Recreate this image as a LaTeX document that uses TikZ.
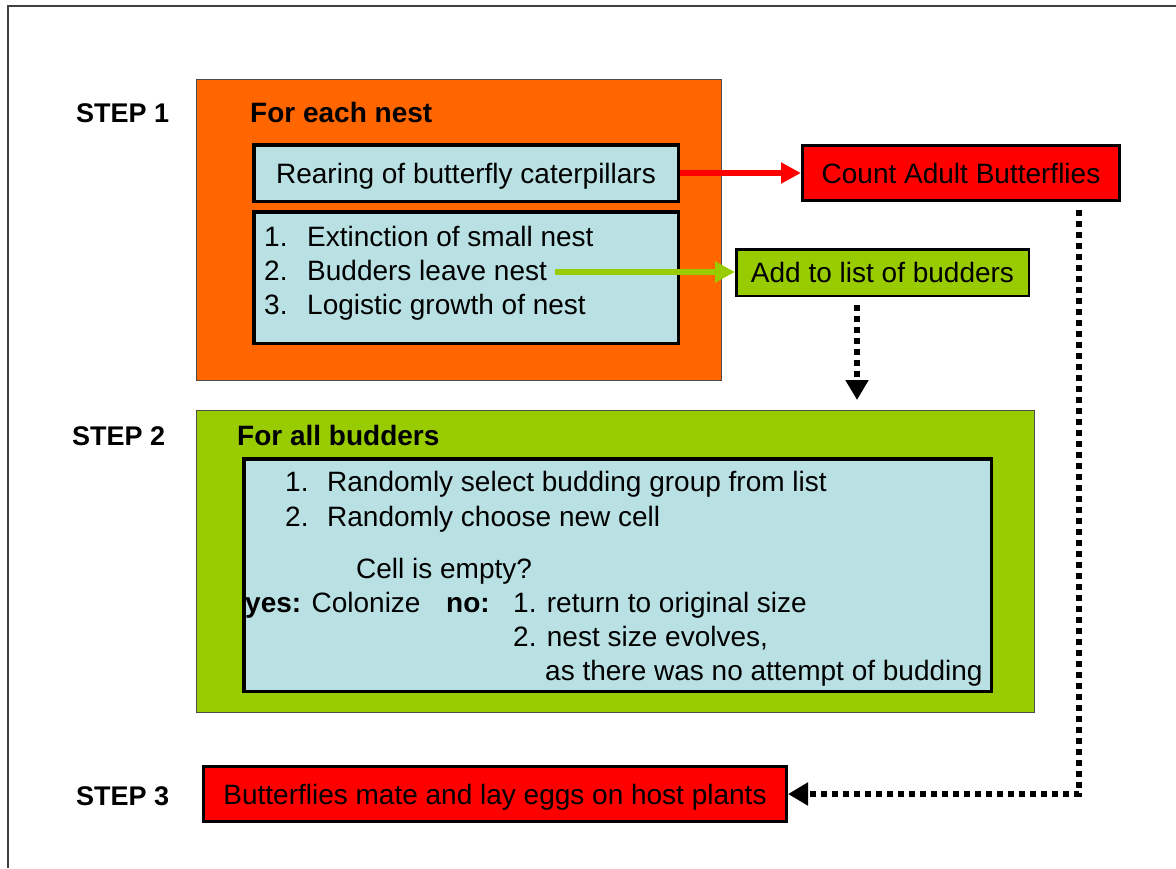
\documentclass[tikz,border=0pt]{standalone}
\usepackage{fontspec}
\setmainfont{Liberation Sans}
\usetikzlibrary{arrows.meta,calc}
\definecolor{orng}{HTML}{FF6600}
\definecolor{grn}{HTML}{99CC00}
\definecolor{lblue}{HTML}{B9E0E3}
\definecolor{rd}{HTML}{FF0000}
\begin{document}
\begin{tikzpicture}[x=1pt,y=-1pt,
  panel/.style={draw=black!70, line width=1.2pt, inner sep=0pt, anchor=north west},
  ibox/.style={draw=black, line width=3.5pt, fill=lblue, inner sep=0pt, anchor=north west,
    font=\fontsize{28}{34}\selectfont, text height=20pt, text depth=0pt},
  cbox/.style={draw=black, line width=3pt, inner sep=0pt, anchor=north west,
    font=\fontsize{28}{34}\selectfont, text height=20pt, text depth=0pt},
  lbl/.style={anchor=base west, inner sep=0pt, font=\fontsize{28}{34}\selectfont},
  blbl/.style={anchor=base west, inner sep=0pt, font=\fontsize{28}{34}\selectfont\bfseries},
  steplbl/.style={anchor=base west, inner sep=0pt, font=\fontsize{27}{32}\selectfont\bfseries},
  solidarrow/.style={line width=6pt, -{Triangle[length=20pt,width=20pt]}},
  dotarrow/.style={line width=6pt, dash pattern=on 6pt off 5pt, -{Triangle[length=20pt,width=22pt]}}
]
\useasboundingbox (0,0) rectangle (1176,868);
% outer frame
\draw[black!75, line width=1.5pt] (8,868) -- (8,6) -- (1176,6);

% STEP labels
\node[steplbl] (s1) at (76,122) {STEP 1};
\node[steplbl] (s2) at (72,445) {STEP 2};
\node[steplbl] (s3) at (76,805) {STEP 3};

% Step 1 panel
\node[panel, fill=orng, minimum width=525pt, minimum height=301pt] (p1) at (196,79) {};
\node[blbl] (p1t) at (250,122) {For each nest};
\node[ibox, minimum width=424.5pt, minimum height=56.5pt] (rear) at (252,143) {Rearing of butterfly caterpillars};
\node[ibox, minimum width=424.5pt, minimum height=131.5pt] (lst) at (252,210) {};
\node[lbl] (n1) at (264,246) {1.};
\node[lbl] (l1) at (307,246) {Extinction of small nest};
\node[lbl] (n2) at (264,280) {2.};
\node[lbl] (l2) at (307,280) {Budders leave nest};
\node[lbl] (n3) at (264,314) {3.};
\node[lbl] (l3) at (307,314) {Logistic growth of nest};

% right side boxes
\node[cbox, fill=rd, minimum width=317pt, minimum height=55pt] (count) at (801,144) {Count Adult Butterflies};
\node[cbox, fill=grn, line width=2.5pt, minimum width=292.5pt, minimum height=46.5pt] (add) at (735,248) {Add to list of budders};

% Step 2 panel
\node[panel, fill=grn, minimum width=838pt, minimum height=302pt] (p2) at (196,410) {};
\node[blbl] (p2t) at (237,445) {For all budders};
\node[ibox, minimum width=747.5pt, minimum height=232.5pt] (inner) at (242,457) {};
\node[lbl] (m1) at (285,491) {1.};
\node[lbl] (t1) at (327,491) {Randomly select budding group from list};
\node[lbl] (m2) at (285,526) {2.};
\node[lbl] (t2) at (327,526) {Randomly choose new cell};
\node[lbl] (q) at (356,578) {Cell is empty?};
\node[lbl] (yes) at (245,612) {\textbf{yes:} Colonize};
\node[lbl] (no) at (446,612) {\textbf{no:}};
\node[lbl] (r1) at (513,612) {1. return to original size};
\node[lbl] (r2) at (513,646) {2. nest size evolves,};
\node[lbl] (r3) at (545,680) {as there was no attempt of budding};

% Step 3
\node[cbox, fill=rd, minimum width=583pt, minimum height=55pt] (butter) at (202,765) {Butterflies mate and lay eggs on host plants};

% connectors
\draw[solidarrow, rd] (rear.east) -- (count.west);
\draw[solidarrow, grn] ([xshift=8pt,yshift=-2pt]l2.east) -- ([yshift=-2pt]add.west |- l2.east);
\draw[dotarrow, shorten <=8pt, shorten >=10pt] ([xshift=-25.5pt]add.south) -- ([xshift=-25.5pt]add.south |- p2.north);
\draw[dotarrow, shorten <=8pt] ([xshift=117.5pt]count.south) |- (butter.east);
\end{tikzpicture}
\end{document}
